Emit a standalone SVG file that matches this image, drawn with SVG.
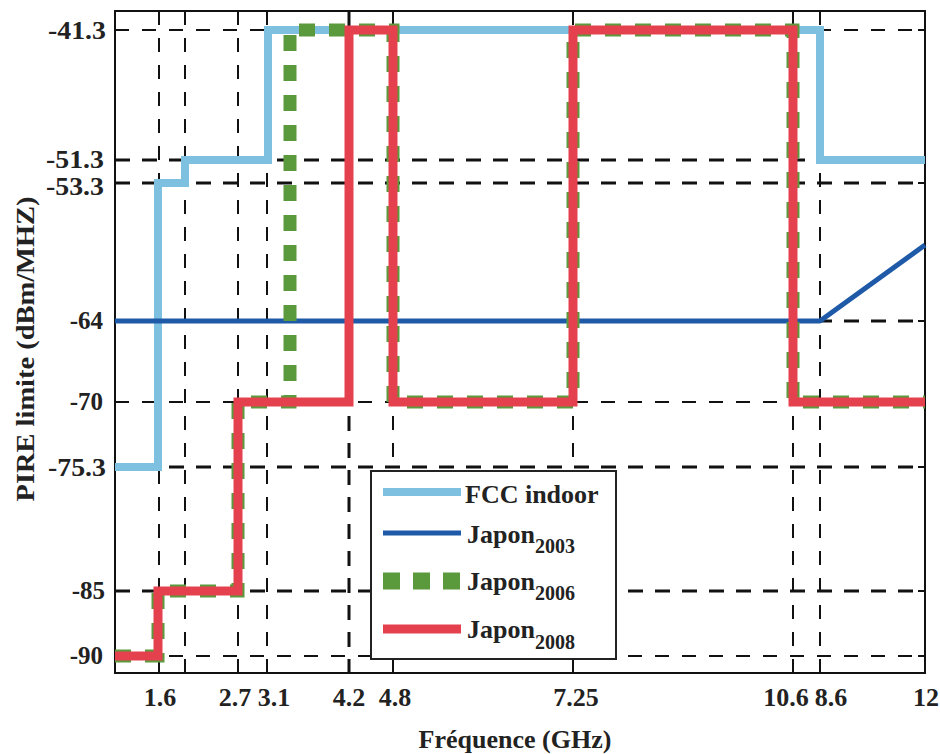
<svg xmlns="http://www.w3.org/2000/svg" width="940" height="754" viewBox="0 0 940 754" font-family="'Liberation Serif', 'DejaVu Serif', serif">
<style>
.grid{fill:none;stroke:#111;stroke-width:2;stroke-dasharray:14 13}
.gridb{fill:none;stroke:#111;stroke-width:3;stroke-dasharray:15 12}
.tick{stroke:#111;stroke-width:2}
text{font-family:'Liberation Serif','DejaVu Serif',serif;font-weight:bold;fill:#222}
.lab{font-size:25px}
.xl{font-size:26px;text-anchor:middle}
.leg{font-size:26px}
.sub{font-size:20px}
.fcc{fill:none;stroke:#7dc0df;stroke-width:8;stroke-linejoin:miter}
.j03{fill:none;stroke:#1f5aa8;stroke-width:5;stroke-linejoin:round}
.j06{fill:none;stroke:#5a9a3c;stroke-width:13;stroke-dasharray:16 14;stroke-linejoin:miter}
.j08{fill:none;stroke:#e5404d;stroke-width:9;stroke-linejoin:miter}
</style>
<rect width="940" height="754" fill="#fff"/>
<g id="grid">
<path class="grid" d="M115 30H925M115 402H925M115 656H925"/>
<path class="gridb" d="M115 160H925M115 183H925M115 321H925M115 467H925M115 591H925"/>
<path class="grid" d="M159 11V673M185 11V673M238 11V673M267 11V673M393 11V673M573 11V673M793 11V673M820 11V673"/>
<path class="gridb" d="M349 11V673"/>
</g>
<g id="axes">
<rect x="115" y="11" width="810" height="662" fill="none" stroke="#111" stroke-width="2"/>
<path class="tick" d="M159 11v8M185 11v8M238 11v8M267 11v8M349 11v8M393 11v8M573 11v8M793 11v8M820 11v8M159 673v-8M185 673v-8M238 673v-8M267 673v-8M349 673v-8M393 673v-10M573 673v-10M793 673v-8M820 673v-8"/>
<path class="tick" d="M115 30h7M115 160h7M115 183h7M115 321h7M115 402h7M115 467h7M115 591h7M115 656h7M925 30h-7M925 160h-7M925 183h-7M925 321h-7M925 402h-7M925 467h-7M925 591h-7M925 656h-7"/>
</g>
<g id="series">
<path id="fcc" class="fcc" d="M115 467H158V183H185V160H268V30H820V160H925"/>
<path id="japon2003" class="j03" d="M115 321H820L925 245"/>
<path id="japon2006" class="j06" d="M115 656H158V591H238V402H290V30H393V402H573V30H793V402H925"/>
<path id="japon2008" class="j08" d="M115 656H158V591H238V402H349V30H393V402H573V30H793V402H925"/>
</g>
<g id="ylabels" text-anchor="end">
<text class="lab" x="106" y="39" textLength="58" lengthAdjust="spacingAndGlyphs">-41.3</text>
<text class="lab" x="104" y="168" textLength="58" lengthAdjust="spacingAndGlyphs">-51.3</text>
<text class="lab" x="104" y="195" textLength="58" lengthAdjust="spacingAndGlyphs">-53.3</text>
<text class="lab" x="103" y="329">-64</text>
<text class="lab" x="103" y="410">-70</text>
<text class="lab" x="106" y="476" textLength="58" lengthAdjust="spacingAndGlyphs">-75.3</text>
<text class="lab" x="105" y="599">-85</text>
<text class="lab" x="103" y="664">-90</text>
</g>
<g id="xlabels">
<text class="xl" x="160" y="706">1.6</text>
<text class="xl" x="235" y="706">2.7</text>
<text class="xl" x="274" y="706">3.1</text>
<text class="xl" x="349" y="706">4.2</text>
<text class="xl" x="395" y="706">4.8</text>
<text class="xl" x="576" y="706">7.25</text>
<text class="xl" x="786" y="706">10.6</text>
<text class="xl" x="831" y="706">8.6</text>
<text class="xl" x="926" y="706">12</text>
</g>
<text id="xtitle" class="xl" x="515" y="748">Fréquence (GHz)</text>
<text id="ytitle" class="leg" text-anchor="middle" transform="translate(34 349) rotate(-90)" textLength="305" lengthAdjust="spacingAndGlyphs">PIRE limite (dBm/MHZ)</text>
<g id="legend">
<rect x="371" y="471" width="245" height="188" fill="#fff" stroke="#222" stroke-width="2"/>
<path class="fcc" d="M383 492H461"/>
<path class="j03" stroke-width="7" d="M383 533H461"/>
<path stroke="#5a9a3c" stroke-width="17" stroke-dasharray="17 13" d="M383 581H461"/>
<path class="j08" d="M383 629H461"/>
<text class="leg" x="465" y="503">FCC indoor</text>
<text class="leg" x="467" y="543">Japon<tspan class="sub" dy="10">2003</tspan></text>
<text class="leg" x="467" y="590">Japon<tspan class="sub" dy="10">2006</tspan></text>
<text class="leg" x="467" y="638">Japon<tspan class="sub" dy="11">2008</tspan></text>
</g>
</svg>
